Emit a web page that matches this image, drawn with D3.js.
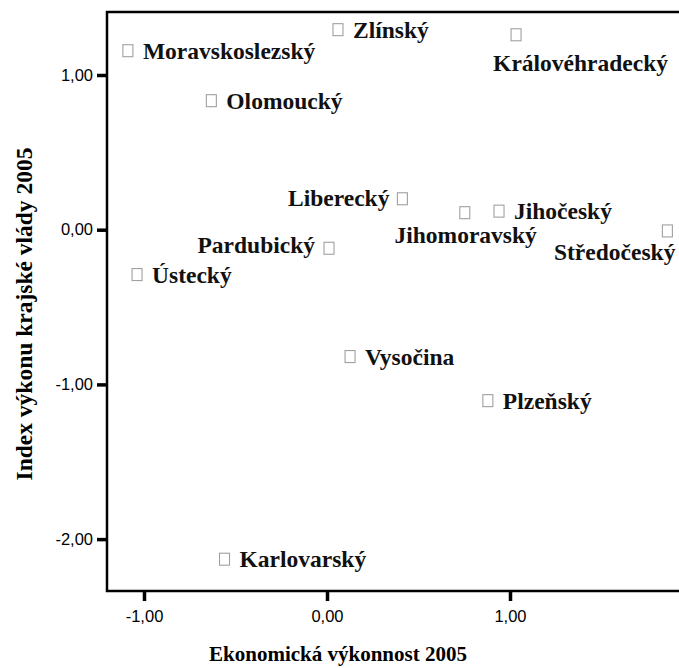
<!DOCTYPE html>
<html>
<head>
<meta charset="utf-8">
<script src="https://cdn.jsdelivr.net/npm/d3@7"></script>
<style>
  html, body { margin: 0; padding: 0; background: #fff; }
  svg { display: block; }
</style>
</head>
<body>
<div id="chart"></div>
<script>
// ---- data ----
const regions = ["Moravskoslezský", "Zlínský", "Královéhradecký", "Olomoucký", "Liberecký",
  "Jihočeský", "Jihomoravský", "Středočeský", "Pardubický", "Ústecký", "Vysočina", "Plzeňský", "Karlovarský"];
const econPerformance = [-1.088, 0.060, 1.033, -0.632, 0.412, 0.940, 0.753, 1.860, 0.011, -1.038, 0.126, 0.879, -0.560];
const governmentIndex = [1.157, 1.293, 1.260, 0.834, 0.200, 0.120, 0.110, -0.008, -0.120, -0.290, -0.820, -1.105, -2.130];
const xTicks = [-1, 0, 1];
const yTicks = [1, 0, -1, -2];
const xTitle = "Ekonomická výkonnost 2005";
const yTitle = "Index výkonu krajské vlády 2005";

// label placement (layout only)
const labelPlacement = {
  "Královéhradecký": { dx: 152, dy: 36, anchor: "end" },
  "Liberecký": { dx: -13, dy: 7, anchor: "end" },
  "Pardubický": { dx: -14, dy: 5, anchor: "end" },
  "Jihomoravský": { dx: 72, dy: 30, anchor: "end" },
  "Středočeský": { dx: 8, dy: 29, anchor: "end" }
};
const defaultPlacement = { dx: 15, dy: 8, anchor: "start" };

// ---- layout ----
const W = 679, H = 668;
const mLeft = 107, mTop = 12, mBottom = 591, mRight = 679;

const x = d3.scaleLinear().domain([-1, 1]).range([144, 510]);
const y = d3.scaleLinear().domain([1, 0]).range([75, 229.7]);

const svg = d3.select("#chart").append("svg").attr("width", W).attr("height", H);

// frame
svg.append("path")
  .attr("d", `M${mRight + 5},${mTop}H${mLeft}V${mBottom}H${mRight + 5}`)
  .attr("fill", "none").attr("stroke", "#000").attr("stroke-width", 2.5);

// axes
const fmt = d => d3.format(".2f")(d).replace(".", ",").replace("\u2212", "-");
const xAxis = d3.axisBottom(x).tickValues(xTicks).tickFormat(fmt).tickSize(9).tickPadding(9);
const yAxis = d3.axisLeft(y).tickValues(yTicks).tickFormat(fmt).tickSize(9).tickPadding(4);

const gx = svg.append("g").attr("transform", `translate(0,${mBottom + 1})`).call(xAxis);
const gy = svg.append("g").attr("transform", `translate(${mLeft - 1},0)`).call(yAxis);
[gx, gy].forEach(g => {
  g.select(".domain").remove();
  g.selectAll(".tick line").attr("stroke", "#000").attr("stroke-width", 3.5);
  g.selectAll(".tick text").attr("fill", "#000")
    .style("font-family", "'Liberation Sans', Arial, sans-serif").style("font-size", "16.5px");
});

// titles
svg.append("text")
  .attr("x", 338).attr("y", 661).attr("text-anchor", "middle")
  .style("font-family", "'Liberation Serif', 'Times New Roman', serif")
  .style("font-weight", "bold").style("font-size", "21px")
  .text(xTitle);
svg.append("text")
  .attr("transform", `translate(32,314) rotate(-90)`).attr("text-anchor", "middle")
  .style("font-family", "'Liberation Serif', 'Times New Roman', serif")
  .style("font-weight", "bold").style("font-size", "23.5px")
  .text(yTitle);

// points
const data = regions.map((r, i) => ({ name: r, ex: econPerformance[i], gi: governmentIndex[i] }));
const pts = svg.append("g").selectAll("g").data(data).join("g")
  .attr("transform", d => `translate(${x(d.ex)},${y(d.gi)})`);

pts.append("rect")
  .attr("x", -5).attr("y", -6).attr("width", 10).attr("height", 12)
  .attr("fill", "#fff").attr("stroke", "#a0a0a0").attr("stroke-width", 1.1);

pts.append("text")
  .each(function(d) {
    const p = labelPlacement[d.name] || defaultPlacement;
    d3.select(this).attr("x", p.dx).attr("y", p.dy).attr("text-anchor", p.anchor);
  })
  .style("font-family", "'Liberation Serif', 'Times New Roman', serif")
  .style("font-weight", "bold").style("font-size", "23.5px")
  .attr("fill", "#111")
  .text(d => d.name);
</script>
</body>
</html>
